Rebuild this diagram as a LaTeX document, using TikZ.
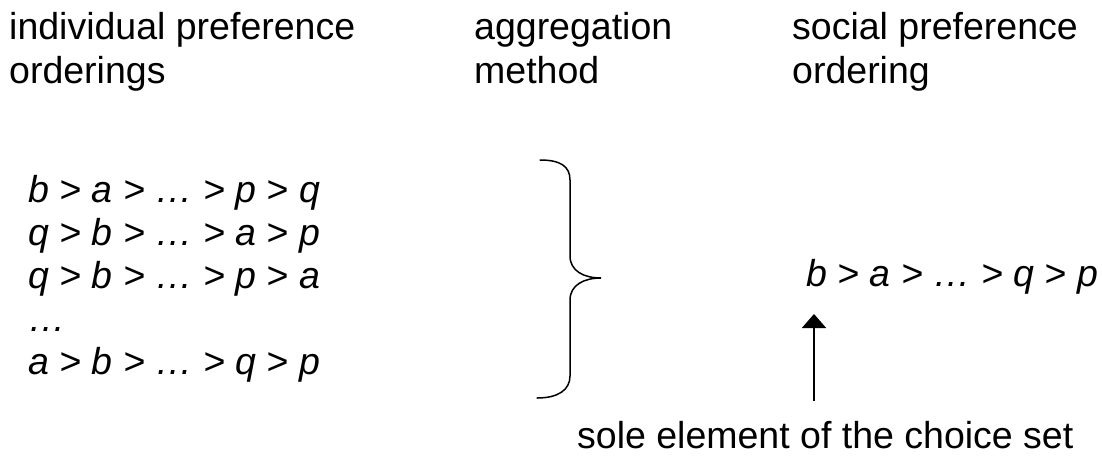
\documentclass[tikz,border=0pt]{standalone}
\usepackage{fontspec}
\setmainfont{Liberation Sans}
\usetikzlibrary{arrows.meta,calc}

\tikzset{
    headtext/.style={anchor=base west, inner sep=0pt, align=left,
        font=\fontsize{37.5}{44}\selectfont},
    ordtext/.style={anchor=base west, inner sep=0pt,
        font=\fontsize{37.5}{45}\selectfont\itshape},
    bracestyle/.style={line width=1.5pt, line cap=round},
    pointer/.style={line width=2pt, -{Triangle[width=24pt,length=14pt]}}
}

\begin{document}
\begin{tikzpicture}[x=1pt,y=-1pt]

\useasboundingbox (0,0) rectangle (1102,455);

\coordinate (cTopPt) at (540,160);
\coordinate (cTipPt) at (601,278);
\coordinate (cBotPt) at (537,398);
\coordinate (cArrPt) at (814,314);

% column headings (anchored at the second line)
\node[headtext] (nIndiv)  at (9,83.5)   {individual preference\\orderings};
\node[headtext] (nAggr)   at (474,83.5) {aggregation\\method};
\node[headtext] (nSocial) at (792,83.5) {social preference\\ordering};

% individual orderings
\foreach \t [count=\i] in
{   b > a > … > p > q,
    q > b > … > a > p,
    q > b > … > p > a,
    …,
    a > b > … > q > p
}
{
    \node[ordtext] (nOrd\i) at (28,159+43*\i) {\t};
};

% social ordering and the choice set
\node[ordtext] (nSocOrd) at (806,286) {b > a > … > q > p};
\node[headtext] (nSole) at (577,448) {sole element of the choice set};

\draw[bracestyle] (cTopPt) .. controls (560,160) and (570,166) .. (570,180)
    -- (570,256) .. controls (570,271) and (584,278) .. (cTipPt)
    .. controls (584,278) and (570,285) .. (570,300)
    -- (570,376) .. controls (570,390) and (558,398) .. (cBotPt);

\draw[pointer, shorten <=20pt] (nSole.north -| cArrPt) -- (cArrPt);

\end{tikzpicture}
\end{document}
